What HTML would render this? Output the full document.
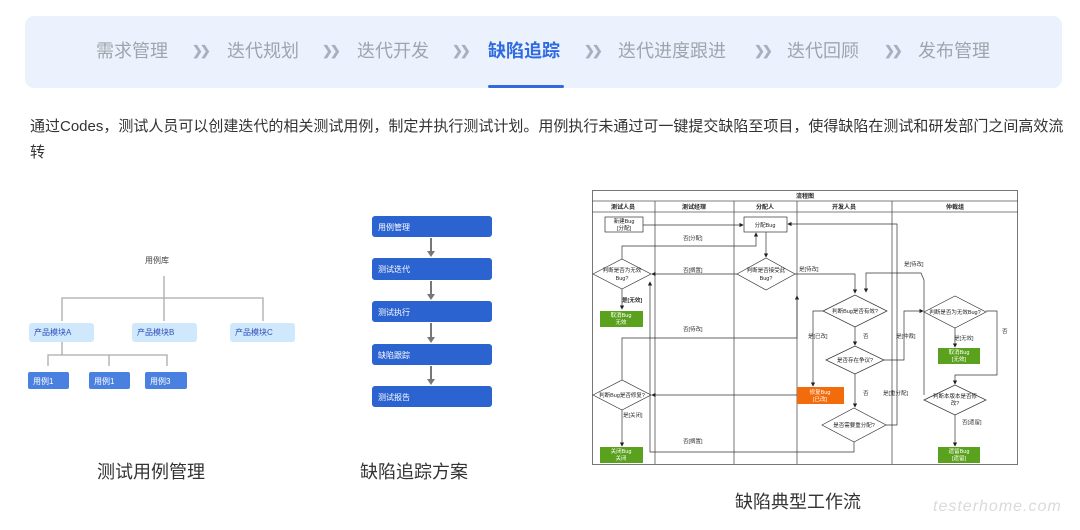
<!DOCTYPE html>
<html><head><meta charset="utf-8"><style>
body{margin:0;width:1080px;height:530px;background:#fff;position:relative;overflow:hidden;font-family:"Liberation Sans","Noto Sans CJK SC",sans-serif}
.nav{position:absolute;left:25px;top:16px;width:1037px;height:72px;background:#ebf2fd;border-radius:9px}
.it{position:absolute;top:40px;font-size:18px;color:#a0a4ac;line-height:22px}
.ch{position:absolute;top:43px;font-size:13px;color:#a8b0c0;letter-spacing:-3px;font-weight:bold;line-height:16px}
.p{position:absolute;left:30px;top:114px;width:1048px;font-size:15px;line-height:26px;color:#333}
.cap{position:absolute;font-size:18px;color:#333}
</style></head><body>
<div class="nav"></div>
<div class="it" style="left:96px">需求管理</div><div class="ch" style="left:192px">❯❯</div>
<div class="it" style="left:227px">迭代规划</div><div class="ch" style="left:322px">❯❯</div>
<div class="it" style="left:357px">迭代开发</div><div class="ch" style="left:452px">❯❯</div>
<div class="it" style="left:488px;color:#2f6ae0;font-weight:bold">缺陷追踪</div><div class="ch" style="left:584px">❯❯</div>
<div class="it" style="left:618px">迭代进度跟进</div><div class="ch" style="left:754px">❯❯</div>
<div class="it" style="left:787px">迭代回顾</div><div class="ch" style="left:884px">❯❯</div>
<div class="it" style="left:918px">发布管理</div>
<div style="position:absolute;left:488px;top:85px;width:76px;height:3px;background:#2f6ae0;border-radius:2px"></div>
<div class="p">通过Codes，测试人员可以创建迭代的相关测试用例，制定并执行测试计划。用例执行未通过可一键提交缺陷至项目，使得缺陷在测试和研发部门之间高效流转</div>
<div class="cap" style="left:97px;top:458px">测试用例管理</div>
<div class="cap" style="left:360px;top:458px">缺陷追踪方案</div>
<div class="cap" style="left:735px;top:488px">缺陷典型工作流</div>
<div style="position:absolute;left:933px;top:498px;font-size:16px;color:#dadada;font-style:italic;letter-spacing:1px">testerhome.com</div>
<svg width="1080" height="530" style="position:absolute;left:0;top:0" font-family="Liberation Sans,Noto Sans CJK SC,sans-serif">
<defs><marker id="a" markerWidth="6" markerHeight="6" refX="5" refY="3" orient="auto"><path d="M0,0L6,3L0,6z" fill="#222"/></marker>
<marker id="g" markerWidth="4" markerHeight="4" refX="3" refY="2" orient="auto"><path d="M0,0L4,2L0,4z" fill="#777"/></marker></defs>
<text x="145" y="263" font-size="8" fill="#444">用例库</text>
<g stroke="#aaa" stroke-width="1.3" fill="none">
<path d="M164,276V298M62,321V298H263V321M164,298V321M62,342V355M48,366V355H167V366M109,355V366"/></g>
<g fill="#cfe8fb"><rect x="29" y="323" width="65" height="19" rx="3"/><rect x="132" y="323" width="65" height="19" rx="3"/><rect x="230" y="323" width="65" height="19" rx="3"/></g>
<g font-size="8" fill="#3050c0"><text x="34" y="335">产品模块A</text><text x="137" y="335">产品模块B</text><text x="235" y="335">产品模块C</text></g>
<g fill="#4a80e0"><rect x="28" y="372" width="41" height="17" rx="2"/><rect x="89" y="372" width="41" height="17" rx="2"/><rect x="145" y="372" width="42" height="17" rx="2"/></g>
<g font-size="8" fill="#fff"><text x="33" y="384">用例1</text><text x="94" y="384">用例1</text><text x="150" y="384">用例3</text></g>
<g fill="#2b63d0"><rect x="372" y="216" width="120" height="21" rx="3"/><rect x="372" y="258" width="120" height="22" rx="3"/><rect x="372" y="301" width="120" height="21" rx="3"/><rect x="372" y="344" width="120" height="21" rx="3"/><rect x="372" y="386" width="120" height="21" rx="3"/></g>
<g font-size="8" fill="#fff"><text x="378" y="230">用例管理</text><text x="378" y="272">测试迭代</text><text x="378" y="315">测试执行</text><text x="378" y="358">缺陷跟踪</text><text x="378" y="400">测试报告</text></g>
<g stroke="#777" stroke-width="2" fill="none"><path d="M431,238V251M431,281V294M431,323V337M431,366V379"/></g>
<g fill="#777"><path d="M427,251H435L431,257zM427,294H435L431,300zM427,337H435L431,343zM427,379H435L431,385z"/></g>
<g stroke="#555" stroke-width="0.8" fill="none">
<rect x="592.5" y="190.5" width="425" height="274"/>
<path d="M592,201H1018M592,212H1018M655,201V464M734,201V464M797,201V464M892,201V464"/></g>
<g font-size="6" fill="#222" text-anchor="middle" font-weight="bold">
<text x="805" y="198">流程图</text><text x="623" y="209">测试人员</text><text x="694" y="209">测试经理</text><text x="765" y="209">分配人</text><text x="844" y="209">开发人员</text><text x="955" y="209">仲裁组</text></g>
<g stroke="#333" stroke-width="0.7" fill="#fff">
<rect x="605" y="217" width="38" height="15"/><rect x="744" y="217" width="43" height="15"/>
<path d="M593,274L622,259L651,274L622,289z"/><path d="M737,274L766,258L795,274L766,290z"/>
<path d="M823,311L855,295L887,311L855,327z"/><path d="M826,360L855,346L884,360L855,374z"/>
<path d="M822,425L854,408L886,425L854,442z"/><path d="M593,395L622,380L651,395L622,410z"/>
<path d="M924,312L955,296L986,312L955,328z"/><path d="M924,400L955,385L986,400L955,415z"/></g>
<g fill="#5aa21e"><rect x="600" y="311" width="43" height="16"/><rect x="600" y="447" width="43" height="16"/><rect x="938" y="348" width="42" height="16"/><rect x="938" y="447" width="42" height="16"/></g>
<rect x="797" y="387" width="47" height="17" fill="#f36c0c"/>
<g font-size="5.5" fill="#222" text-anchor="middle">
<text x="624" y="223">新建Bug</text><text x="624" y="230">[分配]</text><text x="765" y="227">分配Bug</text>
<text x="622" y="272">判断是否为无效</text><text x="622" y="280">Bug?</text>
<text x="766" y="272">判断是否接受此</text><text x="766" y="280">Bug?</text>
<text x="855" y="313">判断Bug是否有效?</text><text x="855" y="362">是否存在争议?</text><text x="854" y="427">是否需要重分配?</text>
<text x="622" y="397">判断Bug是否修复?</text><text x="955" y="314">判断是否为无效Bug?</text>
<text x="955" y="398">判断本版本是否修</text><text x="955" y="405">改?</text></g>
<g font-size="5.5" fill="#fff" text-anchor="middle">
<text x="621" y="317">取消Bug</text><text x="621" y="324">无效</text><text x="621" y="453">关闭Bug</text><text x="621" y="460">关闭</text>
<text x="959" y="354">取消Bug</text><text x="959" y="361">[无效]</text><text x="959" y="453">遗留Bug</text><text x="959" y="460">[遗留]</text>
<text x="820" y="394">修复Bug</text><text x="820" y="401">[已改]</text></g>
<g stroke="#333" stroke-width="0.7" fill="none" marker-end="url(#a)">
<path d="M643,225H743"/><path d="M766,232V257"/><path d="M622,259V246H756V233"/>
<path d="M737,274H652"/><path d="M622,289V309"/><path d="M795,274H855V293"/>
<path d="M622,380V338H797V296"/><path d="M823,311H813V386"/><path d="M855,327V345"/><path d="M855,374V407"/>
<path d="M884,360H904V311H923"/><path d="M797,395H652"/><path d="M622,410V446"/>
<path d="M854,442V452H650V282"/><path d="M886,425H897V224H788"/>
<path d="M955,328V347"/><path d="M986,311H997V375H955V384"/><path d="M955,415V446"/>
<path d="M924,395V280L921,273H866V292"/></g>
<g font-size="5.5" fill="#333">
<text x="683" y="240">否[分配]</text><text x="683" y="272">否[搁置]</text><text x="799" y="271">是[待改]</text>
<text x="622" y="302" font-weight="bold">是[无效]</text><text x="683" y="331">否[待改]</text><text x="808" y="338">是[已改]</text>
<text x="863" y="338">否</text><text x="896" y="338">是[仲裁]</text><text x="863" y="395">否</text><text x="883" y="395">是[重分配]</text>
<text x="904" y="266">是[待改]</text><text x="623" y="417">是[关闭]</text><text x="683" y="443">否[搁置]</text>
<text x="954" y="340">是[无效]</text><text x="1002" y="333">否</text><text x="962" y="424">否[遗留]</text></g>
</svg>
</body></html>
